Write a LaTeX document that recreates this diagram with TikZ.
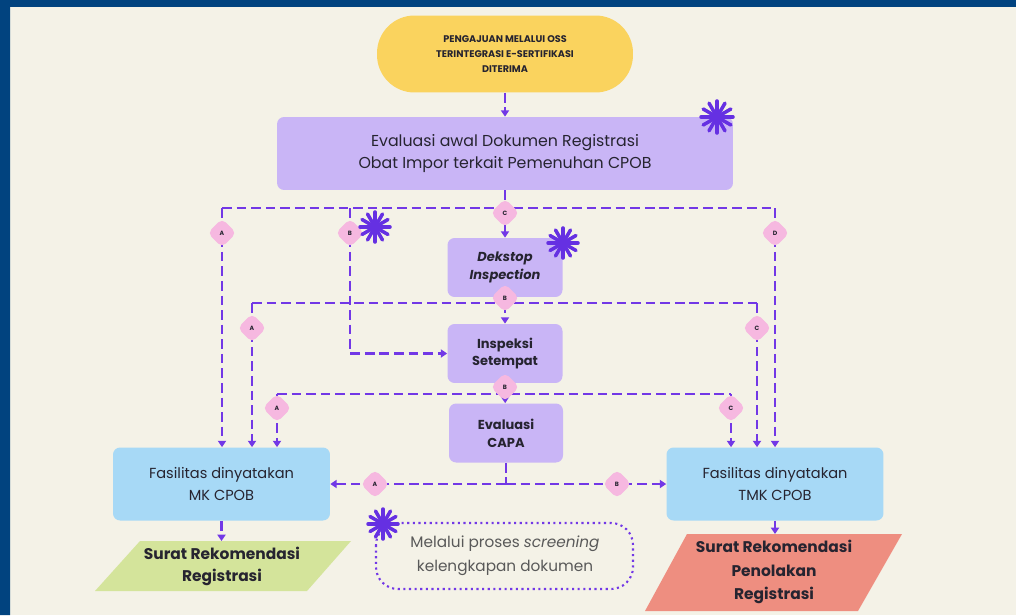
\documentclass[tikz,border=0pt]{standalone}
\usepackage{fontspec}
\setmainfont{Poppins}
\usetikzlibrary{arrows.meta,calc,shapes.geometric}
\definecolor{navy}{HTML}{01437F}
\definecolor{cream}{HTML}{F4F2E7}
\definecolor{sun}{HTML}{FAD35E}
\definecolor{lilac}{HTML}{C9B5F6}
\definecolor{sky}{HTML}{A7D9F6}
\definecolor{lime}{HTML}{D4E49B}
\definecolor{salmon}{HTML}{EE8E80}
\definecolor{wire}{HTML}{7238E6}
\definecolor{spark}{HTML}{6530E2}
\definecolor{blush}{HTML}{F6B8E0}
\definecolor{ink}{HTML}{262430}
\newcommand\burst[2]{{%
  \foreach \a in {0,30,...,330}
    \draw[spark,line width=2pt,line cap=round] (#1) -- ++(\a:#2);}}

\begin{document}
\begin{tikzpicture}[x=0.02cm,y=-0.02cm,
  box/.style={rectangle,rounded corners=4pt,inner sep=0,align=center,text=ink},
  link/.style={wire,line width=1.3pt,dash pattern=on 5.5pt off 2.8pt},
  go/.style={link,-{Triangle[length=3.6pt,width=4.6pt]}},
  tag/.style={diamond,fill=blush,minimum width=0.58cm,minimum height=0.58cm,inner sep=0,
    rounded corners=3pt,text=ink,font=\fontsize{3.5}{4}\selectfont\bfseries}]
% ---------- canvas ----------
\useasboundingbox (0,0) rectangle (1016,615);
\fill[cream] (0,0) rectangle (1016,615);
\fill[navy] (0,0) rectangle (10,615) (0,0) rectangle (1016,7);
% ---------- boxes ----------
\node[box,fill=sun,rounded corners=0.75cm,minimum width=5.12cm,minimum height=1.54cm,
  font=\fontsize{5.5}{8.4}\selectfont\bfseries] (oss) at (505,54)
  {PENGAJUAN MELALUI OSS\\TERINTEGRASI E-SERTIFIKASI\\DITERIMA};
\node[box,fill=lilac,minimum width=9.12cm,minimum height=1.46cm,
  font=\fontsize{9}{13}\selectfont] (eval) at (505,153.5)
  {Evaluasi awal Dokumen Registrasi\\Obat Impor terkait Pemenuhan CPOB};
\node[box,fill=lilac,minimum width=2.3cm,minimum height=1.18cm,
  font=\fontsize{7.4}{10.2}\selectfont\bfseries\itshape] (desk) at (505,267.5) {Dekstop\\Inspection};
\node[box,fill=lilac,minimum width=2.3cm,minimum height=1.18cm,
  font=\fontsize{7.4}{10.2}\selectfont\bfseries] (insp) at (505,353.5) {Inspeksi\\Setempat};
\node[box,fill=lilac,minimum width=2.28cm,minimum height=1.18cm,
  font=\fontsize{7.4}{10.2}\selectfont\bfseries] (capa) at (506,433) {Evaluasi\\CAPA};
\node[box,fill=sky,minimum width=4.34cm,minimum height=1.46cm,
  font=\fontsize{8.3}{12.4}\selectfont] (mk) at (221.5,484) {Fasilitas dinyatakan\\MK CPOB};
\node[box,fill=sky,minimum width=4.34cm,minimum height=1.46cm,
  font=\fontsize{8.3}{12.4}\selectfont] (tmk) at (775,484) {Fasilitas dinyatakan\\TMK CPOB};
% ---------- outcome sheets ----------
\fill[lime] (140,541) -- (351,541) -- (307,591) -- (95,591) -- cycle;
\fill[salmon] (687,534) -- (902,534) -- (858,611) -- (645,611) -- cycle;
\node[box,font=\fontsize{8.8}{12.6}\selectfont\bfseries] (rec) at (222,566)
  {Surat Rekomendasi\\Registrasi};
\node[box,font=\fontsize{8.8}{13.2}\selectfont\bfseries] (rej) at (774,572)
  {Surat Rekomendasi\\Penolakan\\Registrasi};
\coordinate (recTop) at (221.5,541);
\coordinate (rejTop) at (775,534);
% ---------- junctions ----------
\coordinate (j1) at (505,208); \coordinate (a1) at (222,208);
\coordinate (b1) at (350,208); \coordinate (d1) at (775,208);
\coordinate (j2) at (505,303); \coordinate (a2) at (252,303); \coordinate (c2) at (757,303);
\coordinate (j3) at (505,394); \coordinate (a3) at (277,394); \coordinate (c3) at (731,394);
\coordinate (j4) at (506,484);
% ---------- connectors ----------
\draw[go] (oss) -- (eval);
\draw[link] (eval) -- (j1);
\draw[link] (a1) -- (d1);
\draw[go] (j1) -- (desk);
\draw[go] (a1) -- (a1 |- mk.north);
\draw[go] (b1) |- (insp);
\draw[go] (d1) -- (d1 |- tmk.north);
\draw[link] (desk) -- (j2);
\draw[link] (a2) -- (c2);
\draw[go] (j2) -- (insp);
\draw[go] (a2) -- (a2 |- mk.north);
\draw[go] (c2) -- (c2 |- tmk.north);
\draw[link] (insp) -- (j3);
\draw[link] (a3) -- (c3);
\draw[go] (j3) -- (capa);
\draw[go] (a3) -- (a3 |- mk.north);
\draw[go] (c3) -- (c3 |- tmk.north);
\draw[link] (capa) -- (j4);
\draw[go] (j4) -- (mk);
\draw[go] (j4) -- (tmk);
\draw[go] (mk) -- (recTop);
\draw[go] (tmk) -- (rejTop);
% ---------- branch tags ----------
\node[tag] (tA1) at (222,233) {A};
\node[tag] (tB1) at (350,233) {B};
\node[tag] (tC1) at (505,213) {C};
\node[tag] (tD1) at (775,233) {D};
\node[tag] (tB2) at (505,298) {B};
\node[tag] (tA2) at (252,328) {A};
\node[tag] (tC2) at (757,328) {C};
\node[tag] (tB3) at (505,387) {B};
\node[tag] (tA3) at (277,408) {A};
\node[tag] (tC3) at (731,408) {C};
\node[tag] (tA4) at (375,484) {A};
\node[tag] (tB4) at (617,484) {B};
% ---------- note ----------
\draw[wire,line width=1.2pt,dotted,rounded corners=0.44cm] (376,523) rectangle (633,589);
\node[text=black!65,align=center,font=\fontsize{8.7}{13.6}\selectfont] (note) at (505,556)
  {Melalui proses \textit{screening}\\kelengkapan dokumen};
% ---------- sparks ----------
\burst{717,117}{16}
\burst{375,227}{15}
\burst{563,243}{15}
\burst{383,524}{15}
\end{tikzpicture}
\end{document}
